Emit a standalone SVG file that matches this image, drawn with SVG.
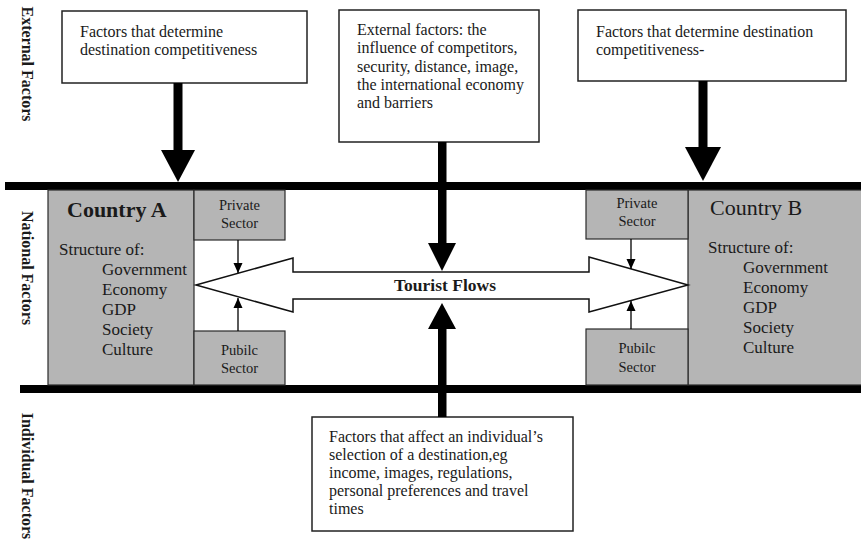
<svg xmlns="http://www.w3.org/2000/svg" width="861" height="541" viewBox="0 0 861 541">
<style>
  .box { fill: #ffffff; stroke: #222; stroke-width: 1.5; }
  .gray { fill: #b5b5b5; stroke: #2a2a2a; stroke-width: 1.2; }
  .t { font-family: "Liberation Serif", "Times New Roman", serif; fill: #1a1a1a; }
  .body { font-size: 16px; }
  .sec { font-size: 14.5px; text-anchor: middle; }
  .list { font-size: 17px; }
  .side { font-size: 16px; font-weight: bold; text-anchor: middle; dominant-baseline: central; }
  .bar { fill: #000; }
  .thick { fill: #000; }
  .thin { stroke: #000; stroke-width: 1.3; fill: none; marker-end: url(#ah); }
</style>
<defs>
  <marker id="ah" markerUnits="userSpaceOnUse" markerWidth="10" markerHeight="10" viewBox="0 0 10 10" refX="10" refY="5" orient="auto">
    <path d="M0,0.5 L10,5 L0,9.5 Z" fill="#000"/>
  </marker>
</defs>
<rect width="861" height="541" fill="#ffffff"/>

<g id="side-labels">
  <text class="t side" transform="translate(27,64) rotate(90)">External Factors</text>
  <text class="t side" transform="translate(27,268) rotate(90)">National Factors</text>
  <text class="t side" transform="translate(27,476) rotate(90)">Individual Factors</text>
</g>

<g id="bars">
  <rect class="bar" x="5" y="182" width="856" height="8"/>
  <rect class="bar" x="20" y="385" width="841" height="8"/>
</g>

<g id="ext-left">
  <rect class="box" x="62" y="11" width="245" height="72"/>
  <text class="t body" x="80" y="37">Factors that determine</text>
  <text class="t body" x="80" y="55">destination competitiveness</text>
</g>

<g id="ext-center">
  <rect class="box" x="339" y="10" width="200" height="132"/>
  <text class="t body" x="357" y="35">External factors: the</text>
  <text class="t body" x="357" y="53">influence of competitors,</text>
  <text class="t body" x="357" y="72">security, distance, image,</text>
  <text class="t body" x="357" y="90">the international economy</text>
  <text class="t body" x="357" y="108">and barriers</text>
</g>

<g id="ext-right">
  <rect class="box" x="578" y="10" width="268" height="71"/>
  <text class="t body" x="596" y="37">Factors that determine destination</text>
  <text class="t body" x="596" y="55">competitiveness-</text>
</g>

<g id="country-a">
  <rect class="gray" x="48" y="190" width="146" height="195"/>
  <text class="t" x="67" y="217" font-size="22" font-weight="bold">Country A</text>
  <text class="t list" x="59" y="255">Structure of:</text>
  <text class="t list" x="102" y="275">Government</text>
  <text class="t list" x="102" y="295">Economy</text>
  <text class="t list" x="102" y="315">GDP</text>
  <text class="t list" x="102" y="335">Society</text>
  <text class="t list" x="102" y="355">Culture</text>
</g>

<g id="private-a">
  <rect class="gray" x="194" y="190" width="91" height="50"/>
  <text class="t sec" x="239.5" y="210">Private</text>
  <text class="t sec" x="239.5" y="228">Sector</text>
</g>

<g id="public-a">
  <rect class="gray" x="194" y="331" width="91" height="54"/>
  <text class="t sec" x="239.5" y="355">Pubilc</text>
  <text class="t sec" x="239.5" y="373">Sector</text>
</g>

<g id="country-b">
  <rect class="gray" x="688" y="190" width="175" height="195"/>
  <text class="t" x="710" y="215" font-size="22">Country B</text>
  <text class="t list" x="708" y="253">Structure of:</text>
  <text class="t list" x="743" y="273">Government</text>
  <text class="t list" x="743" y="293">Economy</text>
  <text class="t list" x="743" y="313">GDP</text>
  <text class="t list" x="743" y="333">Society</text>
  <text class="t list" x="743" y="353">Culture</text>
</g>

<g id="private-b">
  <rect class="gray" x="586" y="190" width="102" height="49"/>
  <text class="t sec" x="637" y="208">Private</text>
  <text class="t sec" x="637" y="226">Sector</text>
</g>

<g id="public-b">
  <rect class="gray" x="586" y="329" width="102" height="56"/>
  <text class="t sec" x="637" y="353">Pubilc</text>
  <text class="t sec" x="637" y="372">Sector</text>
</g>

<g id="tourist-flows">
  <polygon points="196,285 293,258 293,272 589,272 589,257 688,285 589,312 589,299 293,299 293,312" fill="#ffffff" stroke="#111" stroke-width="1.5" stroke-linejoin="miter"/>
  <text class="t" x="445" y="291" font-size="17.5" font-weight="bold" text-anchor="middle">Tourist Flows</text>
</g>

<g id="individual">
  <rect class="box" x="312" y="417" width="261" height="114"/>
  <text class="t body" x="329" y="442">Factors that affect an individual’s</text>
  <text class="t body" x="329" y="460">selection of a destination,eg</text>
  <text class="t body" x="329" y="478">income, images, regulations,</text>
  <text class="t body" x="329" y="496">personal preferences and travel</text>
  <text class="t body" x="329" y="514">times</text>
</g>

<g id="connectors">
  <rect class="thick" x="173.5" y="83" width="9" height="68"/>
  <polygon class="thick" points="161,150 195,150 178,182"/>
  <rect class="thick" x="698.5" y="81" width="9" height="67"/>
  <polygon class="thick" points="685,147 721,147 703,181"/>
  <rect class="thick" x="438" y="142" width="8.5" height="102"/>
  <polygon class="thick" points="428,243 456,243 442,271"/>
  <rect class="thick" x="438" y="327" width="8.5" height="90"/>
  <polygon class="thick" points="428,329 456,329 442,303"/>
  <line class="thin" x1="238" y1="240" x2="238" y2="273"/>
  <line class="thin" x1="238" y1="331" x2="238" y2="298"/>
  <line class="thin" x1="631" y1="239" x2="631" y2="269"/>
  <line class="thin" x1="631" y1="329" x2="631" y2="301"/>
</g>
</svg>
